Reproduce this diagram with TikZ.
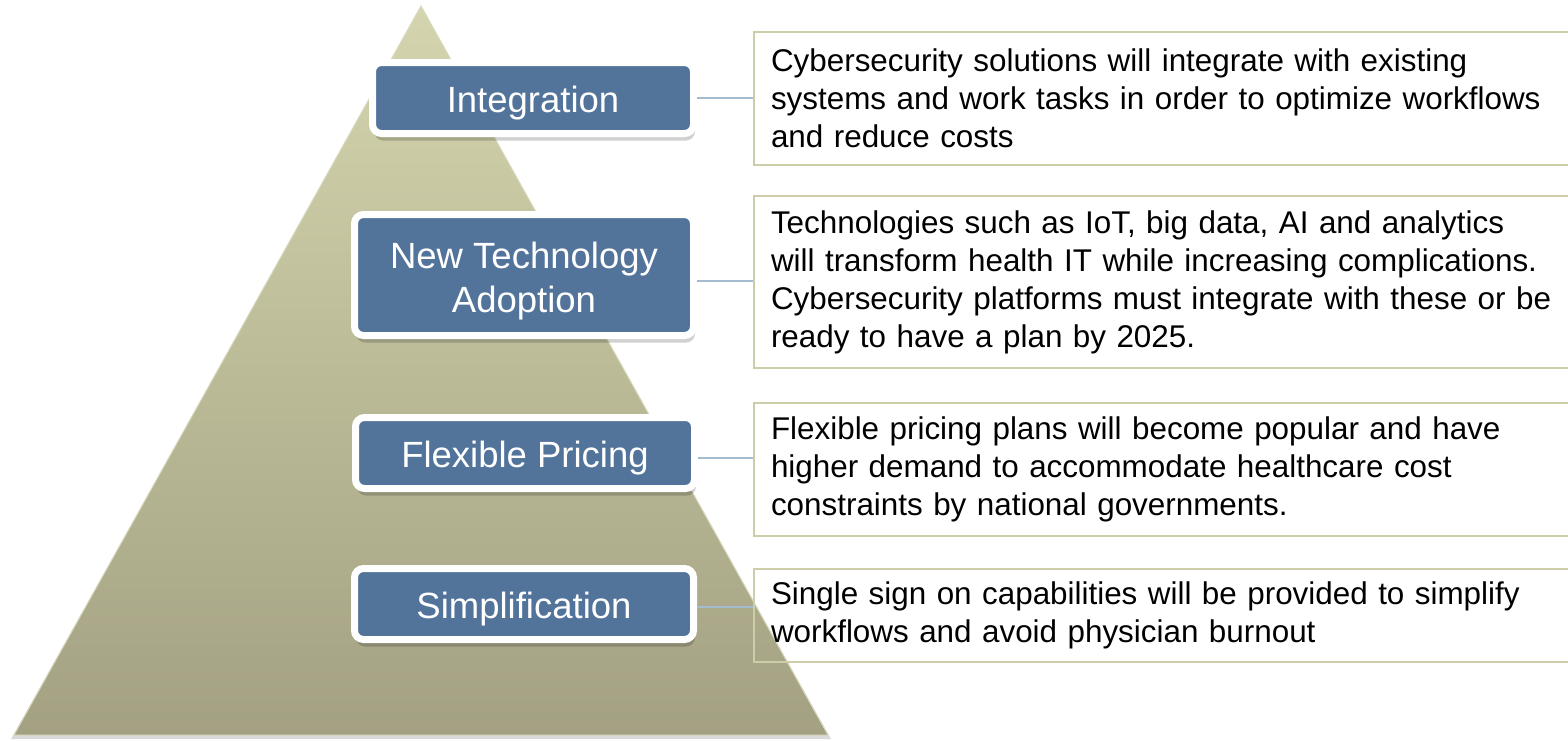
\documentclass[tikz,border=0pt]{standalone}
\usepackage{fontspec}
\setmainfont{Liberation Sans}
\usetikzlibrary{shadows}
\definecolor{labblue}{HTML}{52739A}
\definecolor{boxline}{HTML}{CDCDAA}
\definecolor{pyrtop}{HTML}{D4D5AE}
\definecolor{pyrbot}{HTML}{A3A182}
\definecolor{pyredge}{HTML}{D9D9BF}
\definecolor{connblue}{HTML}{A5BBD0}
\begin{document}
\begin{tikzpicture}[x=1pt,y=-1pt,
  lab/.style={draw=white, line width=7pt, fill=labblue, rounded corners=9pt,
    text=white, font=\fontsize{36.5}{44}\selectfont, align=center,
    minimum width=339pt, minimum height=71pt, inner sep=0pt,
    text height=36pt, text depth=8pt,
    drop shadow={shadow xshift=1.5pt, shadow yshift=-7pt, opacity=0.18, fill=black}},
  tbox/.style={draw=boxline, line width=2pt, anchor=west, align=left,
    font=\fontsize{31.4}{38}\selectfont, text width=850pt,
    inner xsep=17pt, inner ysep=0pt},
  connline/.style={draw=connblue, line width=1.5pt}]
\useasboundingbox (0,0) rectangle (1568,740);
% pyramid
\fill[black, opacity=0.15] (421,9) -- (831,739) -- (11,739) -- cycle;
\shade[top color=pyrtop, bottom color=pyrbot, draw=pyredge, line width=1pt]
  (421,6) -- (828,735) -- (14,735) -- cycle;
% text boxes
\node[tbox, minimum height=133pt] (t1) at (753,98.5)
  {Cybersecurity solutions will integrate with existing\\
   systems and work tasks in order to optimize workflows\\
   and reduce costs};
\node[tbox, minimum height=172pt] (t2) at (753,282)
  {Technologies such as IoT, big data, AI and analytics\\
   will transform health IT while increasing complications.\\
   Cybersecurity platforms must integrate with these or be\\
   ready to have a plan by 2025.};
\node[tbox, minimum height=133pt] (t3) at (753,469.5)
  {Flexible pricing plans will become popular and have\\
   higher demand to accommodate healthcare cost\\
   constraints by national governments.};
\node[tbox, minimum height=93pt] (t4) at (753,615.5)
  {Single sign on capabilities will be provided to simplify\\
   workflows and avoid physician burnout};
% labels
\node[lab, minimum width=321pt] (l1) at (533,98) {Integration};
\node[lab, minimum height=121pt, text height=82pt] (l2) at (524,275) {New Technology\\Adoption};
\node[lab] (l3) at (525,453) {Flexible Pricing};
\node[lab] (l4) at (524,604) {Simplification};
% connectors
\draw[connline] (l1.east) -- (l1.east -| t1.west);
\draw[connline] ([yshift=-6pt]l2.east) -- ([yshift=-6pt]l2.east -| t2.west);
\draw[connline] ([yshift=-5pt]l3.east) -- ([yshift=-5pt]l3.east -| t3.west);
\draw[connline] ([yshift=-3pt]l4.east) -- ([yshift=-3pt]l4.east -| t4.west);
\end{tikzpicture}
\end{document}
